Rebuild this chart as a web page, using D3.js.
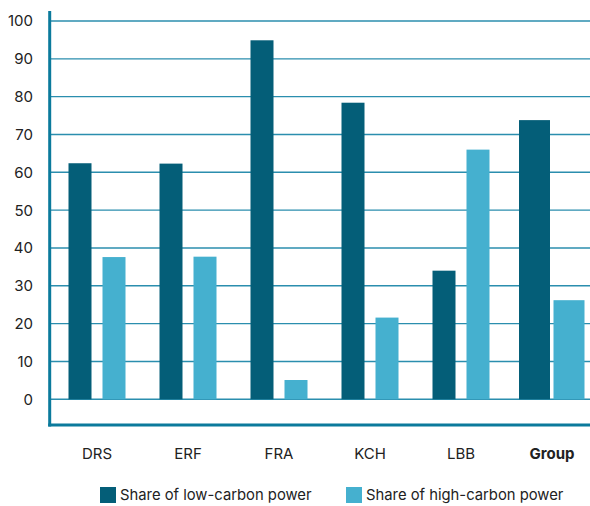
<!DOCTYPE html>
<html>
<head>
<meta charset="utf-8">
<script src="https://cdn.jsdelivr.net/npm/d3@7"></script>
<style>
  html, body { margin: 0; padding: 0; background: #fff; }
  svg { display: block; }
  text { font-family: Inter, "Noto Sans", sans-serif; fill: #222; }
</style>
</head>
<body>
<svg id="chart" width="590" height="506"></svg>
<script>
// Plant codes and the group total
const categories = ["DRS", "ERF", "FRA", "KCH", "LBB", "Group"];
// Share of generation, in percent
const lowCarbon  = [62.4, 62.3, 94.9, 78.4, 34.0, 73.8];
const highCarbon = [37.6, 37.7, 5.1, 21.6, 66.0, 26.2];
const seriesNames = ["Share of low-carbon power", "Share of high-carbon power"];
const yTicks = [0, 10, 20, 30, 40, 50, 60, 70, 80, 90, 100];

const colors = ["#045e78", "#45b0cf"];
const axisColor = "#0b7a9c";
const gridColor = "#2b8eae";

const svg = d3.select("#chart");
const width = 590;

const y = d3.scaleLinear().domain([0, 100]).range([399.3, 21]);
const x0 = d3.scaleBand().domain(categories).range([51.5, 597.5]).padding(0);
// Paired bars inside each category: 23px wide with an 11px gap
const x1 = d3.scaleBand().domain([0, 1]).range([-28.5, 28.5]).paddingInner(11 / 34).paddingOuter(0);
// The group total uses wider bars
const xTotal = d3.scaleBand().domain([0, 1]).range([-33, 32.5]).paddingInner(3.5 / 34.5).paddingOuter(0);

// Horizontal gridlines
svg.append("g")
  .selectAll("line")
  .data(yTicks)
  .join("line")
  .attr("x1", 51).attr("x2", width)
  .attr("y1", d => y(d)).attr("y2", d => y(d))
  .attr("stroke", gridColor)
  .attr("stroke-width", 1.4);

// Y tick labels
svg.append("g")
  .selectAll("text")
  .data(yTicks)
  .join("text")
  .attr("x", 33)
  .attr("y", d => y(d))
  .attr("dy", "0.36em")
  .attr("text-anchor", "end")
  .attr("font-size", 15)
  .text(d => d);

// Bars
const rows = categories.map((c, i) => ({ cat: c, vals: [lowCarbon[i], highCarbon[i]] }));
const groups = svg.append("g")
  .selectAll("g")
  .data(rows)
  .join("g")
  .attr("transform", d => `translate(${x0(d.cat) + x0.bandwidth() / 2},0)`);

groups.selectAll("rect")
  .data(d => d.vals.map((v, k) => ({ v, k, sx: d.cat === "Group" ? xTotal : x1 })))
  .join("rect")
  .attr("x", d => d.sx(d.k))
  .attr("width", d => d.sx.bandwidth())
  .attr("y", d => y(d.v))
  .attr("height", d => y(0) - y(d.v))
  .attr("fill", d => colors[d.k]);

// Axis frame: left and bottom
svg.append("line")
  .attr("x1", 49.7).attr("x2", 49.7).attr("y1", 11).attr("y2", 426.5)
  .attr("stroke", axisColor).attr("stroke-width", 3);
svg.append("line")
  .attr("x1", 48.2).attr("x2", width).attr("y1", 425).attr("y2", 425)
  .attr("stroke", axisColor).attr("stroke-width", 3);

// Category labels
svg.append("g")
  .selectAll("text")
  .data(categories)
  .join("text")
  .attr("x", d => x0(d) + x0.bandwidth() / 2)
  .attr("y", 459)
  .attr("text-anchor", "middle")
  .attr("font-size", 15)
  .attr("font-weight", d => d === "Group" ? 700 : 400)
  .text(d => d);

// Legend
const legend = svg.append("g");
const legendX = [100, 346];
seriesNames.forEach((name, i) => {
  legend.append("rect")
    .attr("x", legendX[i]).attr("y", 487)
    .attr("width", 16).attr("height", 16)
    .attr("fill", colors[i]);
  legend.append("text")
    .attr("x", legendX[i] + 20).attr("y", 500)
    .attr("font-size", 14.8)
    .text(name);
});
</script>
</body>
</html>
